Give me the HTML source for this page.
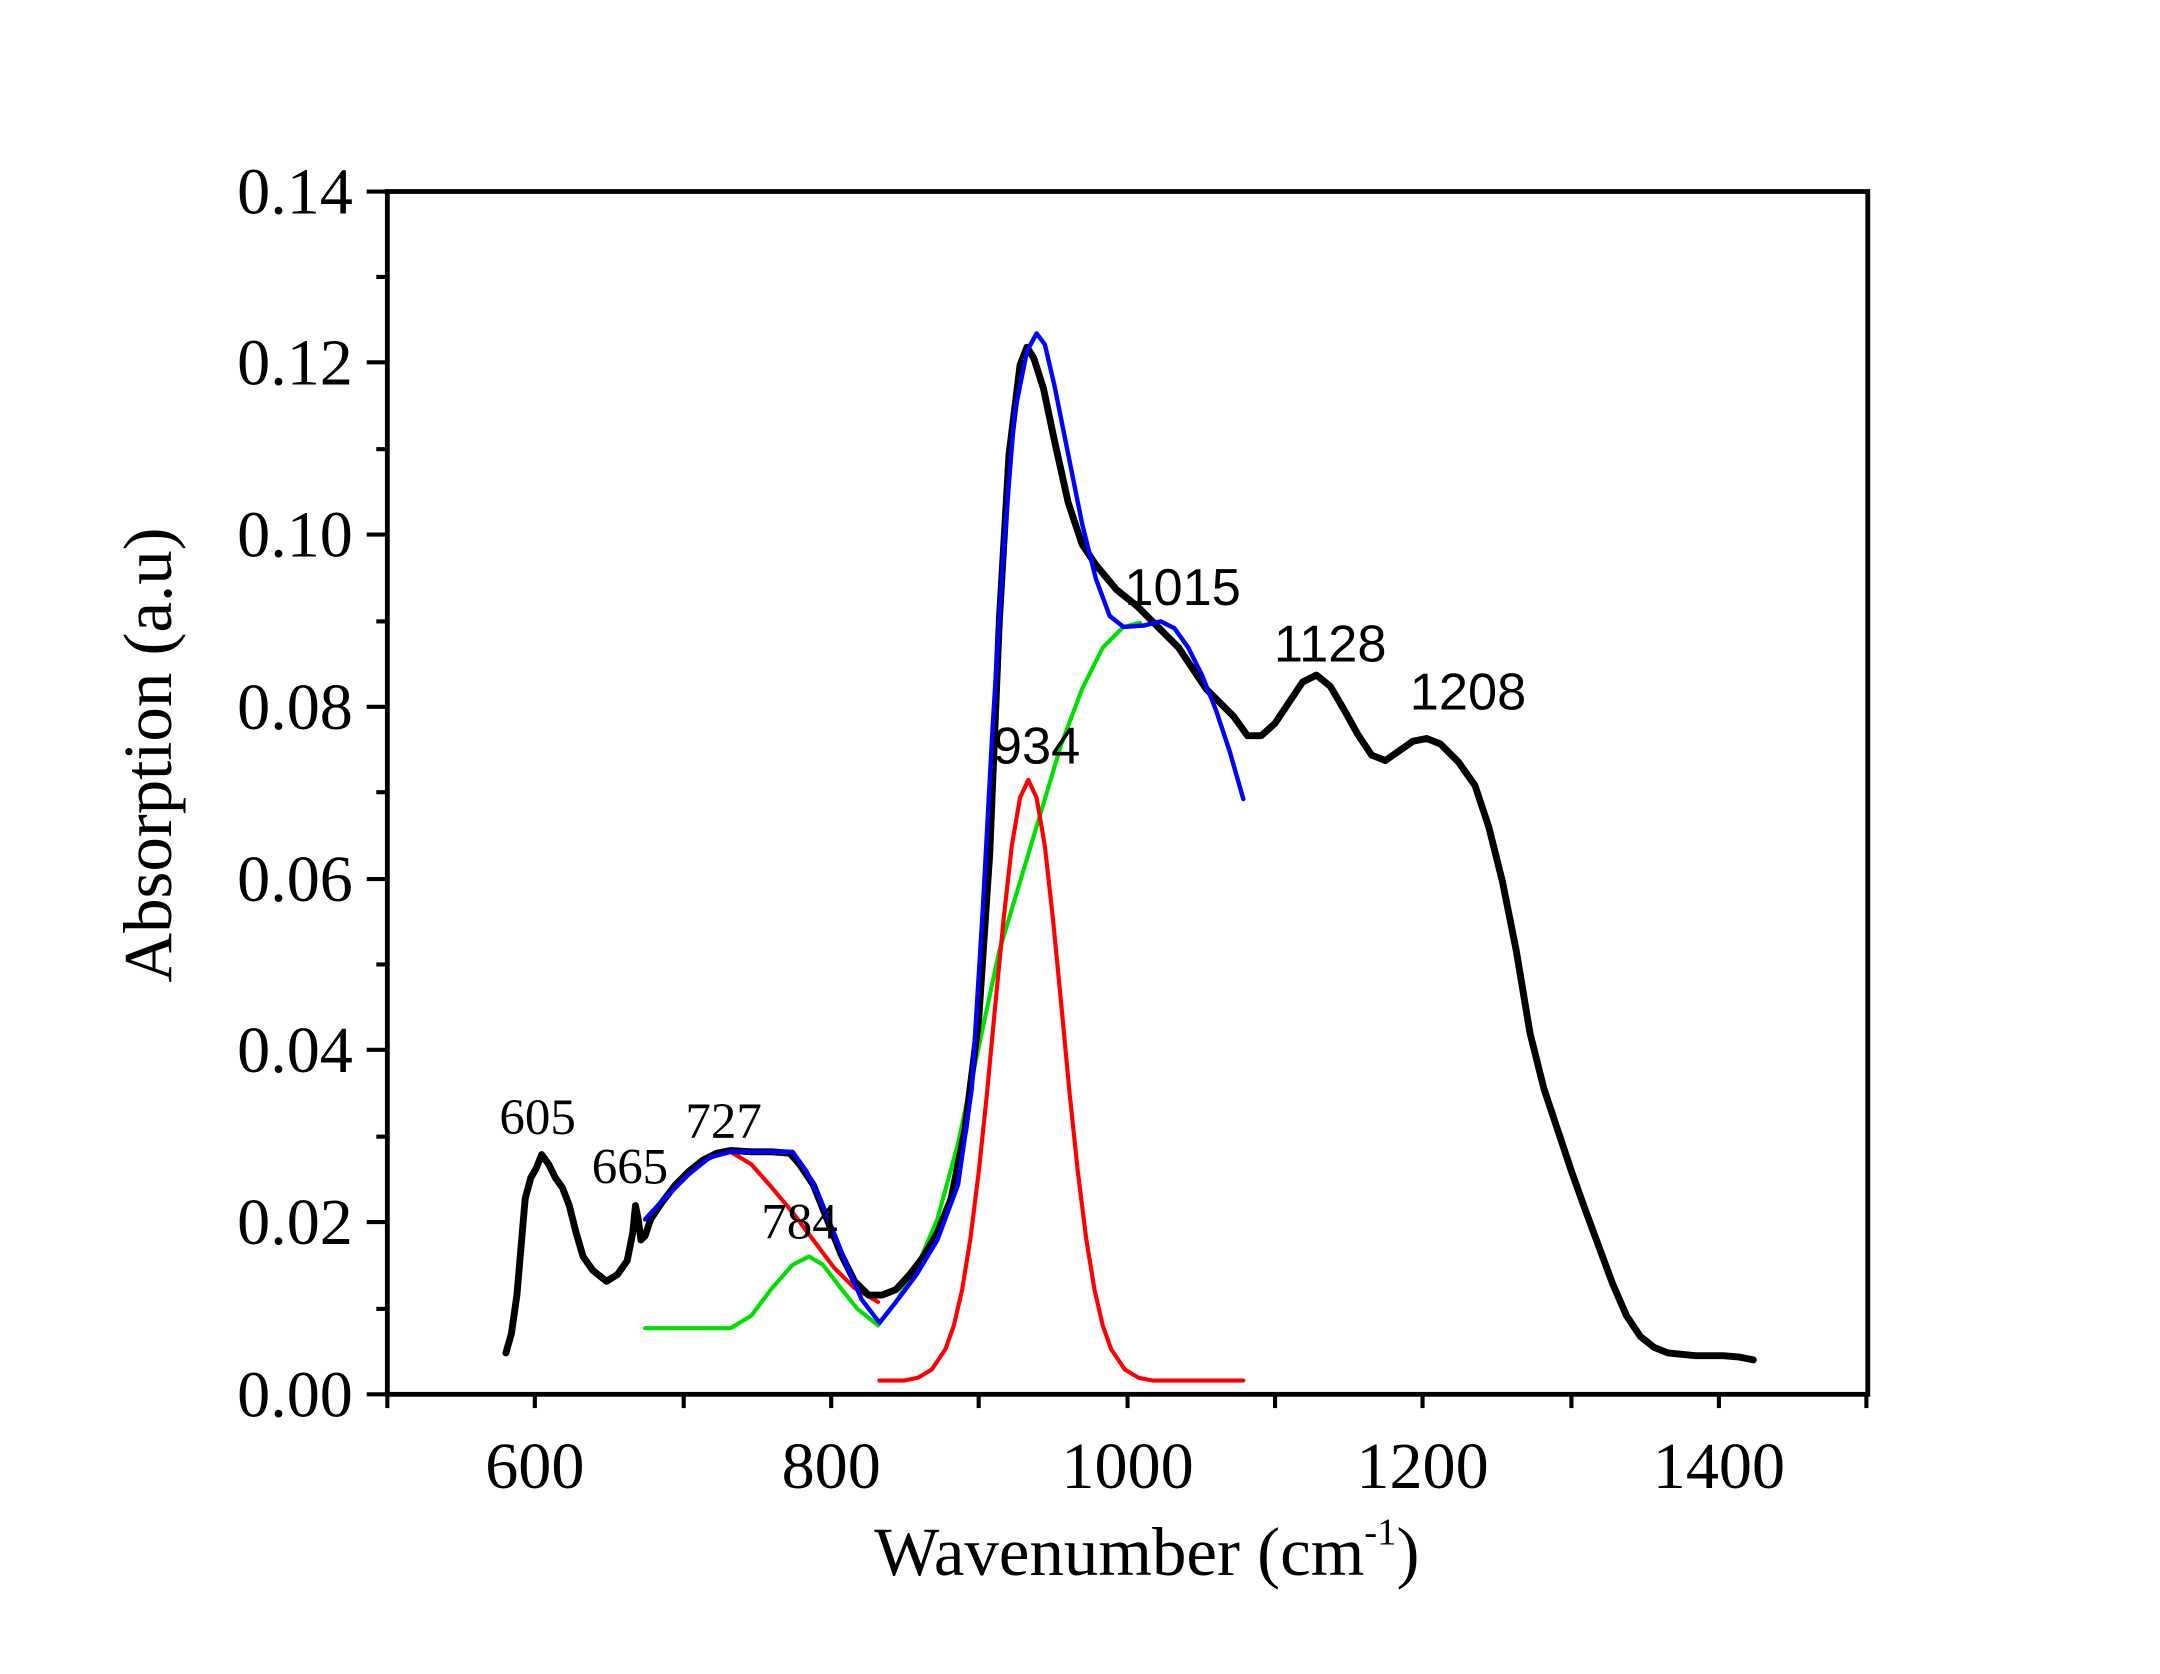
<!DOCTYPE html>
<html><head><meta charset="utf-8"><style>html,body{margin:0;padding:0;background:#fff}svg{display:block}</style></head>
<body>
<svg width="2160" height="1674" viewBox="0 0 1567 1215" preserveAspectRatio="none" xmlns="http://www.w3.org/2000/svg">
<rect width="1567" height="1215" fill="#fff"/>
<g fill="none" stroke-linejoin="round" stroke-linecap="round">
<polyline stroke="#00e000" stroke-width="3" points="468,964 530,964 545,955 560,935 575,918 587,912 597,918 610,935 622,950 637,962"/>
<polyline stroke="#00e000" stroke-width="3" points="637,962 650,945 665,920 680,885 695,830 710,760 725,690 740,640 755,590 770,540 785,500 800,470 815,455 827,452"/>
<polyline stroke="#ff0000" stroke-width="3" points="468,885 480,872 500,852 515,840 530,836 545,845 560,862 575,880 590,900 605,920 620,935 637,945"/>
<polyline stroke="#ff0000" stroke-width="3" points="638,1002 656,1002 666,1000 676,994 686,979 692,962 698,936 704,899 710,851 716,794 722,730 728,668 734,614 740,579 746,566 752,579 758,614 764,668 770,730 776,794 782,851 788,899 794,936 800,962 806,979 816,994 826,1000 836,1002 902,1002"/>
<polyline stroke="#000" stroke-width="5" points="367,982 371,968 375,940 378,905 381,870 385,855 389,848 393,838 398,845 403,855 408,862 413,875 418,895 423,912 430,922 440,930 448,925 455,915 459,895 461,875 463,885 465,900 468,897 472,885 480,873 490,860 500,850 510,842 520,837 530,835 545,836 560,836 573,837 580,845 590,860 600,885 610,910 620,930 630,940 640,940 650,936 660,925 670,912 680,895 690,870 700,820 710,740 718,620 725,450 732,330 740,265 745,252 750,260 757,282 765,320 775,365 785,395 795,410 810,428 825,440 840,455 855,470 865,485 875,500 885,510 895,520 905,534 915,534 925,525 935,510 945,495 955,490 965,498 975,515 985,533 995,548 1005,552 1015,545 1025,538 1035,536 1045,540 1058,553 1070,570 1080,600 1090,640 1100,690 1110,750 1120,790 1130,820 1140,850 1150,878 1160,905 1170,932 1180,955 1190,970 1200,978 1210,982 1230,984 1250,984 1262,985 1272,987"/>
<polyline stroke="#0000ff" stroke-width="3.2" points="468,885 480,872 500,852 515,840 530,836 575,836 585,850 595,870 605,895 615,920 625,943 638,960 650,945 665,925 680,900 695,860 705,790 713,660 720,530 728,400 736,300 745,255 752,242 758,250 765,280 775,330 785,380 795,420 805,447 815,455 830,454 842,451 852,456 862,470 872,490 882,515 892,545 902,580"/>
</g>
<rect x="281" y="139" width="1074" height="873" fill="none" stroke="#000" stroke-width="3.5"/>
<g stroke="#000" stroke-width="3">
<line x1="281" y1="1012" x2="281" y2="1022"/><line x1="388" y1="1012" x2="388" y2="1022"/><line x1="496" y1="1012" x2="496" y2="1022"/><line x1="603" y1="1012" x2="603" y2="1022"/><line x1="710" y1="1012" x2="710" y2="1022"/><line x1="818" y1="1012" x2="818" y2="1022"/><line x1="925" y1="1012" x2="925" y2="1022"/><line x1="1032" y1="1012" x2="1032" y2="1022"/><line x1="1140" y1="1012" x2="1140" y2="1022"/><line x1="1247" y1="1012" x2="1247" y2="1022"/><line x1="1354" y1="1012" x2="1354" y2="1022"/>
<line x1="266" y1="1012" x2="281" y2="1012"/><line x1="273" y1="950" x2="281" y2="950"/><line x1="266" y1="887" x2="281" y2="887"/><line x1="273" y1="825" x2="281" y2="825"/><line x1="266" y1="762" x2="281" y2="762"/><line x1="273" y1="700" x2="281" y2="700"/><line x1="266" y1="638" x2="281" y2="638"/><line x1="273" y1="575" x2="281" y2="575"/><line x1="266" y1="513" x2="281" y2="513"/><line x1="273" y1="451" x2="281" y2="451"/><line x1="266" y1="388" x2="281" y2="388"/><line x1="273" y1="326" x2="281" y2="326"/><line x1="266" y1="263" x2="281" y2="263"/><line x1="273" y1="201" x2="281" y2="201"/><line x1="266" y1="139" x2="281" y2="139"/>
</g>
<g font-family="'Liberation Serif',serif" font-size="48" fill="#000">
<g text-anchor="end">
<text x="256" y="1028">0.00</text><text x="256" y="903">0.02</text><text x="256" y="778">0.04</text><text x="256" y="654">0.06</text><text x="256" y="529">0.08</text><text x="256" y="404">0.10</text><text x="256" y="279">0.12</text><text x="256" y="155">0.14</text>
</g>
<g text-anchor="middle">
<text x="388" y="1080">600</text><text x="603" y="1080">800</text><text x="818" y="1080">1000</text><text x="1032" y="1080">1200</text><text x="1247" y="1080">1400</text>
<text x="832" y="1143" font-size="50">Wavenumber (cm<tspan font-size="28" dy="-22">-1</tspan><tspan dy="22">)</tspan></text>
<text transform="translate(124,548) rotate(-90)" font-size="50">Absorption (a.u)</text>
</g>
<g font-size="37" text-anchor="middle">
<text x="390" y="823">605</text><text x="457" y="859">665</text><text x="525" y="826">727</text><text x="580" y="899">784</text>
</g>
</g>
<g font-family="'Liberation Sans',sans-serif" font-size="38" fill="#000" text-anchor="middle">
<text x="752" y="554">934</text><text x="858" y="439">1015</text><text x="965" y="480">1128</text><text x="1065" y="515">1208</text>
</g>
</svg>
</body></html>
